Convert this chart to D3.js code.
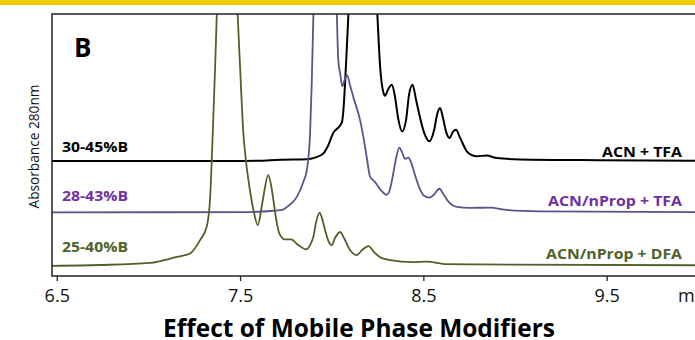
<!DOCTYPE html>
<html>
<head>
<meta charset="utf-8">
<script src="https://cdn.jsdelivr.net/npm/d3@7"></script>
<style>
  body { margin: 0; background: #fff; }
  svg { display: block; font-family: "Open Sans", "Noto Sans", sans-serif; }
</style>
</head>
<body>
<svg id="chart" width="695" height="340"></svg>
<script>
// Chromatograms (retention time in min, absorbance above each trace's own baseline)
const seriesNames = ["ACN + TFA", "ACN/nProp + TFA", "ACN/nProp + DFA"];
const gradientLabels = ["30-45%B", "28-43%B", "25-40%B"];
const stackOffsets = [43.9, 24.3, 3.9];
const timeTicks = [6.5, 7.5, 8.5, 9.5];

const acnTfa = [
  [6.474,0],[7.45,0],[7.60,0.1],[7.718,0.5],[7.864,0.7],[7.909,1.3],[7.954,2.8],[7.980,5.8],
  [8.009,10.8],[8.029,12.3],[8.055,14.6],[8.064,19.6],[8.073,29.9],[8.082,42.5],[8.091,55.9],
  [8.17,160],[8.249,55.9],[8.264,36.1],[8.282,26.1],[8.291,24.9],[8.307,27.2],[8.328,29.1],
  [8.346,24.2],[8.362,16.5],[8.384,11.3],[8.406,15.8],[8.422,25.3],[8.441,29.1],[8.460,23.4],
  [8.482,16.5],[8.504,10.8],[8.533,7.5],[8.559,11.9],[8.575,17.7],[8.591,20.2],[8.607,16.5],
  [8.624,11.2],[8.642,8.8],[8.662,11.2],[8.678,11.9],[8.700,8.9],[8.737,3.7],[8.766,2.2],
  [8.793,1.8],[8.846,2.1],[8.900,1.1],[9.028,0.6],[9.464,0.3],[9.982,0.1]
];

const acnNpropTfa = [
  [6.474,0],[7.555,0.1],[7.680,0.6],[7.735,1.0],[7.755,2.0],[7.809,5.8],[7.845,11.6],[7.866,16.8],
  [7.882,30.2],[7.891,49.2],[7.900,75.2],[7.964,200],[8.028,75.2],[8.036,58.0],[8.046,53.1],
  [8.058,48.1],[8.073,51.1],[8.085,52.3],[8.100,48.5],[8.118,44.0],[8.155,35.1],[8.176,27.5],
  [8.191,21.1],[8.209,13.7],[8.236,11.6],[8.269,8.4],[8.300,6.7],[8.318,8.8],[8.336,14.9],
  [8.351,20.6],[8.369,24.7],[8.384,22.9],[8.400,20.4],[8.418,20.9],[8.433,19.1],[8.455,14.1],
  [8.482,8.8],[8.504,6.3],[8.533,5.6],[8.559,6.9],[8.587,9.0],[8.613,6.5],[8.640,3.8],
  [8.682,2.1],[8.755,1.7],[8.864,1.8],[8.955,0.9],[9.137,0.4],[9.982,0.1]
];

const acnNpropDfa = [
  [6.474,0],[6.736,0.3],[7.009,1.1],[7.155,3.4],[7.227,4.7],[7.282,9.8],[7.318,14.9],[7.336,25.1],
  [7.351,50.6],[7.364,76.0],[7.373,95.7],[7.43,250],[7.487,95.7],[7.500,76.0],[7.518,50.6],
  [7.533,39.6],[7.551,30.2],[7.573,21.3],[7.597,15.5],[7.615,21.3],[7.627,26.3],[7.654,34.6],
  [7.669,30.8],[7.682,25.1],[7.696,18.2],[7.714,12.4],[7.745,10.1],[7.778,10.1],[7.818,7.9],
  [7.860,6.3],[7.882,7.9],[7.900,11.1],[7.915,16.7],[7.934,20.3],[7.947,18.2],[7.964,13.6],
  [7.980,9.8],[8.000,7.9],[8.018,10.6],[8.046,12.9],[8.067,10.6],[8.100,6.0],[8.137,4.1],
  [8.166,6.0],[8.201,7.5],[8.231,5.2],[8.273,2.9],[8.318,2.2],[8.444,1.4],[8.519,1.6],
  [8.628,0.6],[8.809,0.5],[9.982,0.2]
];

const traces = [acnTfa, acnNpropTfa, acnNpropDfa];
const traceColors = ["#000000", "#62508C", "#4F6228"];
const labelColors = ["#000000", "#7030A0", "#4F6228"];

// Layout
const W = 695, H = 340;
const plot = { left: 52, top: 14, right: 695, bottom: 276 };

const svg = d3.select("#chart");

// Header band
svg.append("rect").attr("x", 0).attr("y", 0).attr("width", W).attr("height", 5).attr("fill", "#EFCB00");

const x = d3.scaleLinear().domain([6.474, 9.982]).range([plot.left, plot.right]);
const y = d3.scaleLinear().domain([0, 100]).range([plot.bottom, plot.top]);

svg.append("clipPath").attr("id", "plot-clip")
  .append("rect")
  .attr("x", plot.left).attr("y", plot.top)
  .attr("width", plot.right - plot.left).attr("height", plot.bottom - plot.top);

// Traces
const traceG = svg.append("g").attr("clip-path", "url(#plot-clip)");
traces.forEach((pts, i) => {
  const line = d3.line()
    .x(d => x(d[0]))
    .y(d => y(d[1] + stackOffsets[i]))
    .curve(d3.curveMonotoneX);
  traceG.append("path")
    .datum(pts)
    .attr("d", line)
    .attr("fill", "none")
    .attr("stroke", traceColors[i])
    .attr("stroke-width", i === 0 ? 2 : 1.8)
    .attr("stroke-linejoin", "round");
});

// Frame: left, top and bottom edges
const frame = svg.append("g").attr("stroke", "#222").attr("stroke-width", 1.5).attr("fill", "none");
frame.append("path").attr("d", `M${plot.right},${plot.top}H${plot.left}V${plot.bottom}H${plot.right}`);

// Time axis
const axis = svg.append("g")
  .attr("transform", `translate(0,${plot.bottom})`)
  .call(d3.axisBottom(x).tickValues(timeTicks).tickFormat(d3.format(".1f")).tickSize(5).tickSizeOuter(0).tickPadding(8));
axis.select(".domain").remove();
axis.selectAll(".tick line").attr("stroke", "#222").attr("stroke-width", 1.3);
axis.selectAll(".tick text")
  .attr("font-family", "'Open Sans', sans-serif")
  .attr("font-size", 18)
  .attr("fill", "#111");

svg.append("text")
  .attr("x", 678).attr("y", 302)
  .attr("font-size", 18).attr("fill", "#111")
  .text("min");

// Panel letter
svg.append("text")
  .attr("x", 74).attr("y", 57)
  .attr("font-size", 26).attr("font-weight", 700)
  .text("B");

// Gradient labels (left) and mobile phase labels (right)
const gradBaselines = [152, 200.5, 252];
const gradWidths = [66, 66, 66];
gradientLabels.forEach((t, i) => {
  svg.append("text")
    .attr("x", 62).attr("y", gradBaselines[i])
    .attr("font-size", 15).attr("font-weight", 700)
    .attr("fill", labelColors[i])
    .attr("textLength", gradWidths[i]).attr("lengthAdjust", "spacingAndGlyphs")
    .text(t);
});

const nameBaselines = [157, 205.5, 258.5];
const nameWidths = [80, 134, 136];
seriesNames.forEach((t, i) => {
  svg.append("text")
    .attr("x", 682 - nameWidths[i]).attr("y", nameBaselines[i])
    .attr("font-size", 15).attr("font-weight", 700)
    .attr("fill", labelColors[i])
    .attr("textLength", nameWidths[i]).attr("lengthAdjust", "spacingAndGlyphs")
    .text(t);
});

// Scale a text element's font so it spans the given width
function fitWidth(sel, target) {
  const len = sel.node().getComputedTextLength();
  const fs = parseFloat(sel.attr("font-size"));
  if (len > 0) sel.attr("font-size", (fs * target / len).toFixed(2));
}

// Y-axis title
const yTitle = svg.append("text")
  .attr("transform", "translate(38.5,146.5) rotate(-90)")
  .attr("text-anchor", "middle")
  .attr("font-size", 14).attr("fill", "#111")
  .text("Absorbance 280nm");
fitWidth(yTitle, 124);

// Chart title
const title = svg.append("text")
  .attr("x", 359).attr("y", 337)
  .attr("text-anchor", "middle")
  .attr("font-size", 24).attr("font-weight", 700)
  .text("Effect of Mobile Phase Modifiers");
fitWidth(title, 392);
</script>
</body>
</html>
